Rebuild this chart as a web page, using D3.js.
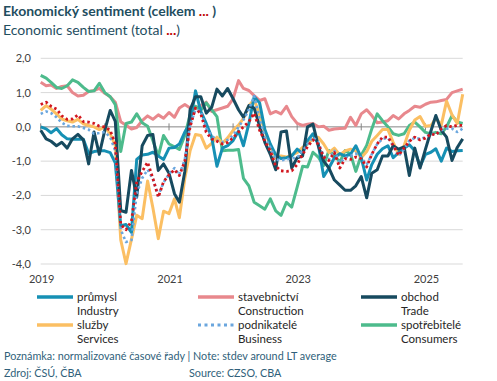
<!DOCTYPE html>
<html>
<head>
<meta charset="utf-8">
<script src="https://cdn.jsdelivr.net/npm/d3@7/dist/d3.min.js"></script>
<style>
  html, body { margin: 0; padding: 0; background: #fff; }
  svg { display: block; font-family: Lato, "Open Sans", sans-serif; }
</style>
</head>
<body>
<svg id="chart" width="497" height="381"></svg>
<script>
// ---------- DATA (monthly, Jan 2019 – Aug 2025) ----------
const startMonth = "2019-01";
const endMonth = "2025-08";

const industry = [0.00,-0.06,-0.17,-0.05,-0.23,-0.35,-0.36,-0.36,-0.36,-0.78,-0.72,-0.70,-0.70,-0.75,-1.05,-2.88,-2.85,-3.08,-0.95,-0.82,
  -0.80,-0.74,-0.85,-0.95,-0.62,-0.60,-0.50,-0.15,0.10,1.05,0.45,0.10,-0.30,-1.15,-0.62,-0.55,-0.40,-0.12,-0.55,0.10,
  0.88,0.70,-0.08,-0.50,-0.82,-0.92,-0.90,-0.85,-0.65,-0.78,-0.40,-0.20,-0.50,-1.45,-1.20,-0.90,-0.78,-0.85,-0.80,-0.55,
  -0.90,-1.55,-1.10,-0.80,-0.64,-0.55,-0.90,-0.75,-0.62,-0.52,-0.70,-1.15,-0.80,-0.74,-0.64,-1.00,-0.62,-0.72,-0.70,-0.69];

const construction = [1.30,1.20,1.22,1.12,1.18,1.20,1.00,0.90,0.92,1.03,1.06,1.12,0.98,0.88,0.72,0.15,0.05,-0.06,-0.02,0.18,
  0.32,0.22,0.35,0.25,0.42,0.28,0.55,0.65,0.55,0.55,0.62,0.72,0.45,0.50,0.55,0.60,0.82,1.35,1.12,1.06,
  0.91,0.77,0.82,0.38,0.45,0.38,0.60,0.30,0.10,0.04,0.08,0.10,0.00,0.02,-0.10,-0.06,-0.05,-0.04,0.28,0.04,
  0.38,0.50,0.33,0.12,0.14,0.18,0.33,0.23,0.38,0.48,0.60,0.57,0.66,0.72,0.73,0.77,0.80,1.00,1.05,1.10];

const trade = [-0.10,-0.35,-0.42,-0.55,-0.45,-0.62,-0.35,-0.22,-0.38,-1.08,-0.15,-0.80,-0.10,0.48,0.16,-2.44,-2.49,-1.27,-2.05,-0.55,
  -0.25,-0.22,-1.27,-1.08,-1.35,-1.95,-2.20,-1.30,0.50,0.88,0.88,0.40,0.57,1.10,0.90,1.12,0.82,0.50,0.28,0.62,
  0.55,0.02,-0.45,-0.80,-1.25,-0.15,-0.12,-1.20,-0.90,-0.85,0.00,0.08,-0.55,-1.00,-1.20,-1.55,-1.70,-1.85,-1.85,-1.72,
  -1.45,-2.07,-1.35,-1.25,-0.85,-0.85,-0.55,-0.65,-0.58,-1.42,-0.62,-1.20,-0.65,-0.12,0.33,-0.10,-0.30,-0.98,-0.60,-0.35];

const services = [0.48,0.62,0.52,0.38,0.23,0.18,0.14,0.22,0.09,0.04,0.00,-0.08,0.00,-0.20,-0.55,-3.30,-3.99,-3.28,-2.58,-2.68,
  -1.58,-2.36,-3.26,-2.46,-2.53,-2.10,-2.65,-1.50,-0.70,-0.22,-0.25,-0.62,-0.48,-0.30,-0.48,-0.32,-0.10,0.05,0.25,0.62,
  0.80,0.35,-0.12,-0.55,-0.90,-0.85,-0.88,-0.82,-0.75,-0.60,-0.50,-0.35,-0.30,-0.50,-0.75,-0.62,-0.82,-0.70,-0.65,-0.70,
  -0.90,-0.72,-0.42,-0.25,-0.08,-0.08,-0.45,-0.80,-0.55,-0.10,0.20,0.30,0.02,0.04,0.25,0.05,0.75,0.35,0.10,0.95];

const business = [0.38,0.45,0.40,0.28,0.12,0.03,0.02,0.02,-0.03,-0.08,-0.20,-0.18,-0.15,-0.30,-0.70,-3.00,-3.36,-3.30,-1.95,-1.50,
  -1.25,-1.52,-2.00,-1.62,-1.38,-1.20,-1.40,-0.95,0.05,0.50,0.45,-0.05,-0.25,-0.40,-0.45,-0.38,-0.25,0.00,0.20,0.50,
  0.90,0.25,-0.30,-0.60,-0.95,-0.98,-0.95,-0.92,-0.90,-0.70,-0.50,-0.30,-0.45,-0.85,-0.95,-0.70,-1.05,-0.90,-0.85,-0.78,
  -0.90,-1.10,-0.80,-0.50,-0.35,-0.32,-0.55,-0.85,-0.65,-0.40,-0.32,-0.35,-0.30,-0.20,-0.22,-0.10,-0.05,-0.05,-0.15,-0.05];

const consumers = [1.50,1.42,1.30,1.15,1.12,1.20,1.37,1.30,1.15,1.03,1.05,1.27,1.00,0.88,0.65,-0.72,0.10,0.14,0.38,0.12,
  0.02,-0.40,-0.85,-0.25,-0.50,-0.58,-0.66,-0.25,0.35,0.60,0.48,0.70,0.50,0.30,-0.70,-0.68,-0.68,-0.66,-1.50,-1.72,
  -2.20,-2.30,-2.40,-2.10,-2.45,-2.58,-2.20,-2.34,-1.76,-1.15,-1.17,-0.74,-0.88,-1.13,-0.69,-0.83,-1.03,-0.69,-0.79,-1.30,
  -0.83,-0.54,-0.06,0.38,0.18,0.00,-0.20,-0.25,-0.20,0.04,0.14,0.00,-0.16,-0.20,-0.16,-0.20,0.00,0.33,0.14,0.10];

const total = [0.65,0.72,0.60,0.52,0.32,0.22,0.23,0.35,0.15,0.14,0.10,0.02,0.00,-0.10,-0.50,-2.85,-3.00,-2.75,-1.60,-1.30,
  -1.03,-1.50,-2.05,-1.60,-1.40,-1.25,-1.42,-1.00,0.00,0.55,0.38,-0.16,-0.35,-0.42,-0.50,-0.45,-0.32,-0.15,0.00,0.15,
  0.40,-0.10,-0.42,-0.70,-1.15,-1.28,-1.30,-1.28,-1.10,-0.80,-0.58,-0.38,-0.50,-0.88,-0.98,-0.75,-1.20,-0.93,-0.95,-0.88,
  -0.93,-1.17,-0.80,-0.50,-0.30,-0.30,-0.54,-0.83,-0.62,-0.42,-0.30,-0.38,-0.33,-0.20,-0.24,-0.06,0.04,0.00,0.05,0.04];

const yTicks = [2, 1, 0, -1, -2, -3, -4];
const xTickLabels = ["2019", "2021", "2023", "2025"];

const legendCz = ["průmysl", "stavebnictví", "obchod", "služby", "podnikatelé", "spotřebitelé"];
const legendEn = ["Industry", "Construction", "Trade", "Services", "Business", "Consumers"];

// ---------- SETUP ----------
const parseM = d3.timeParse("%Y-%m");
const months = d3.timeMonth.range(parseM(startMonth), d3.timeMonth.offset(parseM(endMonth), 1));

const series = [
  { key: "construction", values: construction, color: "#e8888d", dash: null, w: 3 },
  { key: "consumers", values: consumers, color: "#4dbb8c", dash: null, w: 3 },
  { key: "services", values: services, color: "#fbbf63", dash: null, w: 3 },
  { key: "industry", values: industry, color: "#1690b4", dash: null, w: 3 },
  { key: "trade", values: trade, color: "#174a5f", dash: null, w: 3 },
  { key: "business", values: business, color: "#6aa6de", dash: "2.5 2.8", w: 2.6 },
  { key: "total", values: total, color: "#d2161e", dash: "2.5 2.8", w: 2.8 }
];
const seriesOf = k => series.find(s => s.key === k);

const svg = d3.select("#chart");
const plotL = 40.7, plotR = 462.7, plotT = 58.3, plotB = 264;

const x = d3.scaleTime().domain([months[0], months[months.length - 1]]).range([plotL, plotR]);
const y = d3.scaleLinear().domain([-4, 2]).range([plotB, plotT]);

// ---------- TITLE ----------
const t1 = svg.append("text").attr("x", 3).attr("y", 16)
  .attr("font-size", 14).attr("font-weight", "bold").attr("fill", "#1f4e5f");
t1.append("tspan").text("Ekonomický sentiment (celkem ");
t1.append("tspan").attr("fill", "#c00000").text("...");
t1.append("tspan").text(" )");

const t2 = svg.append("text").attr("x", 3).attr("y", 35)
  .attr("font-size", 14).attr("fill", "#1f4e5f");
t2.append("tspan").text("Economic sentiment (total ");
t2.append("tspan").attr("fill", "#c00000").attr("font-weight", "bold").text("...");
t2.append("tspan").text(")");

// ---------- GRID ----------
svg.append("g").selectAll("line").data(yTicks.filter(d => d !== 0)).join("line")
  .attr("x1", plotL).attr("x2", plotR)
  .attr("y1", d => y(d)).attr("y2", d => y(d))
  .attr("stroke", "#d9d9d9").attr("stroke-width", 1);

svg.append("g").selectAll("text").data(yTicks).join("text")
  .attr("x", 31).attr("y", d => y(d) + 4)
  .attr("text-anchor", "end").attr("font-size", 11).attr("fill", "#404040")
  .text(d => d3.format(".1f")(d).replace(".", ",").replace("−", "-"));

svg.append("line").attr("x1", plotL).attr("x2", plotR)
  .attr("y1", y(0)).attr("y2", y(0)).attr("stroke", "#868686").attr("stroke-width", 1);
const yearTicks = d3.timeYear.range(months[0], months[months.length - 1]);
svg.append("g").selectAll("line").data(yearTicks).join("line")
  .attr("x1", d => x(d)).attr("x2", d => x(d))
  .attr("y1", y(0) - 3.5).attr("y2", y(0) + 3.5)
  .attr("stroke", "#868686").attr("stroke-width", 1);

svg.append("g").selectAll("text").data(xTickLabels).join("text")
  .attr("x", d => x(parseM(d + "-01")) + 1)
  .attr("y", 283).attr("text-anchor", "middle")
  .attr("font-size", 11).attr("fill", "#404040").text(d => d);

// ---------- LINES ----------
const line = d3.line().x((d, i) => x(months[i])).y(d => y(d));
svg.append("g").selectAll("path").data(series).join("path")
  .attr("d", s => line(s.values))
  .attr("fill", "none")
  .attr("stroke", s => s.color)
  .attr("stroke-width", s => s.w)
  .attr("stroke-linejoin", "round")
  .attr("stroke-dasharray", s => s.dash);

// ---------- LEGEND ----------
const legendKeys = ["industry", "construction", "trade", "services", "business", "consumers"];
const colX = [37, 198, 361];
const rowY = [297, 325];
const lg = svg.append("g");
legendKeys.forEach((k, i) => {
  const s = seriesOf(k);
  const cx = colX[i % 3], ry = rowY[Math.floor(i / 3)];
  lg.append("line").attr("x1", cx).attr("x2", cx + 36).attr("y1", ry).attr("y2", ry)
    .attr("stroke", s.color).attr("stroke-width", s.dash ? 3 : 3.5)
    .attr("stroke-dasharray", s.dash ? "3 3.5" : null);
  lg.append("text").attr("x", cx + 40).attr("y", ry + 4)
    .attr("font-size", 11.5).attr("fill", "#262626").text(legendCz[i]);
  lg.append("text").attr("x", cx + 40).attr("y", ry + 18)
    .attr("font-size", 11.5).attr("fill", "#262626").text(legendEn[i]);
});

// ---------- NOTES ----------
svg.append("text").attr("x", 4).attr("y", 360).attr("font-size", 10.8).attr("fill", "#2f5f7a")
  .text("Poznámka: normalizované časové řady |  Note: stdev around LT average");
svg.append("text").attr("x", 4).attr("y", 377).attr("font-size", 10.8).attr("fill", "#2f5f7a")
  .text("Zdroj: ČSÚ, ČBA");
svg.append("text").attr("x", 189).attr("y", 377).attr("font-size", 10.8).attr("fill", "#2f5f7a")
  .text("Source: CZSO, CBA");
</script>
</body>
</html>
